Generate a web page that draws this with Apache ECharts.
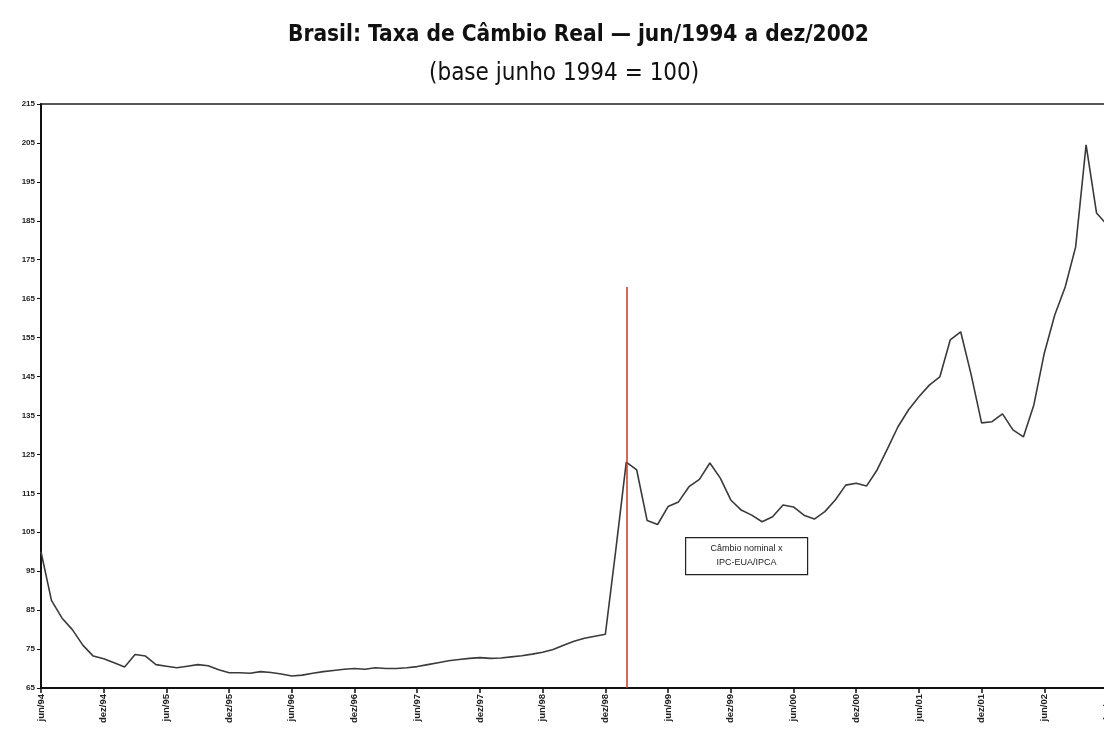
<!DOCTYPE html>
<html>
<head>
<meta charset="utf-8">
<script src="https://cdn.jsdelivr.net/npm/echarts@6/dist/echarts.min.js"></script>
<style>
html,body{margin:0;padding:0;background:#fff;overflow:hidden;}
#chart{width:1104px;height:733px;}
</style>
</head>
<body>
<div id="chart"></div>
<script>
// Month labels (Portuguese) and years
const monthNames = ['jan','fev','mar','abr','mai','jun','jul','ago','set','out','nov','dez'];
const years = ['94','95','96','97','98','99','00','01','02'];
// categories: jun/94 .. dez/02
const categories = [];
years.forEach((y, yi) => {
  monthNames.forEach((m, mi) => {
    if (yi === 0 && mi < 5) return;
    categories.push(m + '/' + y);
  });
});

// Real exchange rate index (base jun/1994 = 100)
const values = [
  100, 87.5, 83, 80, 76, 73.2, 72.5,
  71.5, 70.4, 73.6, 73.2, 71, 70.6, 70.2, 70.6, 71, 70.7, 69.7, 68.9,
  68.9, 68.8, 69.2, 69, 68.6, 68.1, 68.3, 68.8, 69.2, 69.5, 69.8, 70,
  69.8, 70.2, 70, 70, 70.2, 70.5, 71, 71.5, 72, 72.3, 72.6, 72.8,
  72.6, 72.7, 73, 73.3, 73.7, 74.2, 74.9, 76, 77, 77.8, 78.3, 78.8,
  100.5, 123, 121, 108, 107, 111.6, 112.8, 116.7, 118.6, 122.8, 118.9, 113.3,
  110.7, 109.4, 107.7, 109, 112, 111.5, 109.4, 108.4, 110.3, 113.3, 117.1, 117.6,
  116.9, 121, 126.5, 132.1, 136.4, 139.8, 142.8, 144.9, 154.4, 156.5, 145.5, 133.1,
  133.4, 135.4, 131.3, 129.5, 137.7, 151, 160.8, 168, 178.3, 204.5, 187, 184
];

// Y axis tick labels
const yTicks = [65, 75, 85, 95, 105, 115, 125, 135, 145, 155, 165, 175, 185, 195, 205, 215];

// Marker line (devaluation, fev/99) and annotation
const markerCategory = 'fev/99';
const markerTop = 168;
const annotation = ['Câmbio nominal x', 'IPC-EUA/IPCA'];

const chart = echarts.init(document.getElementById('chart'));
chart.setOption({
  backgroundColor: '#fff',
  animation: false,
  title: [
    {
      text: 'Brasil: Taxa de Câmbio Real — jun/1994 a dez/2002',
      left: 283, top: 19,
      textStyle: {fontFamily: 'DejaVu Sans Condensed', fontWeight: 'bold', fontSize: 22.5, color: '#111'}
    },
    {
      text: '(base junho 1994 = 100)',
      left: 424, top: 57,
      textStyle: {fontFamily: 'DejaVu Sans Condensed', fontWeight: 'normal', fontSize: 24, color: '#111'}
    }
  ],
  grid: {
    left: 41, top: 104, height: 584, width: 1066,
    outerBoundsMode: 'none', containLabel: false,
    show: true, borderColor: '#222', borderWidth: 1.5, backgroundColor: 'transparent'
  },
  xAxis: {
    type: 'category',
    data: categories,
    boundaryGap: false,
    axisLine: {lineStyle: {color: '#111', width: 2}},
    axisTick: {show: true, interval: 5, length: 5, lineStyle: {color: '#111', width: 1.5}},
    axisLabel: {
      interval: 5, rotate: 90, fontSize: 9.5, fontFamily: 'Liberation Sans',
      fontWeight: 'bold', color: '#222', margin: 6
    },
    splitLine: {show: false}
  },
  yAxis: {
    type: 'value',
    min: 65, max: 215,
    axisLine: {show: true, lineStyle: {color: '#111', width: 2}},
    axisTick: {show: true, length: 4, customValues: yTicks, lineStyle: {color: '#111', width: 1}},
    axisLabel: {
      customValues: yTicks, fontSize: 8, fontFamily: 'Liberation Sans',
      fontWeight: 'bold', color: '#222', margin: 6
    },
    splitLine: {show: false}
  },
  series: [{
    type: 'line',
    data: values,
    symbol: 'none',
    smooth: false,
    lineStyle: {color: '#3a3a3a', width: 1.6},
    markLine: {
      silent: true,
      symbol: ['none', 'none'],
      label: {show: false},
      lineStyle: {color: '#c0392b', width: 1.5, type: 'solid'},
      data: [[{coord: [markerCategory, 65]}, {coord: [markerCategory, markerTop]}]]
    }
  }],
  graphic: [{
    type: 'group',
    left: 685, top: 537,
    children: [
      {type: 'rect', shape: {x: 0, y: 0, width: 122, height: 37},
        style: {fill: '#fff', stroke: '#222', lineWidth: 1.2}},
      {type: 'text', x: 61, y: 11, style: {text: annotation[0], fill: '#222', font: '9px Liberation Sans', textAlign: 'center', textVerticalAlign: 'middle'}},
      {type: 'text', x: 61, y: 25, style: {text: annotation[1], fill: '#222', font: '9px Liberation Sans', textAlign: 'center', textVerticalAlign: 'middle'}}
    ]
  }]
});
</script>
</body>
</html>
